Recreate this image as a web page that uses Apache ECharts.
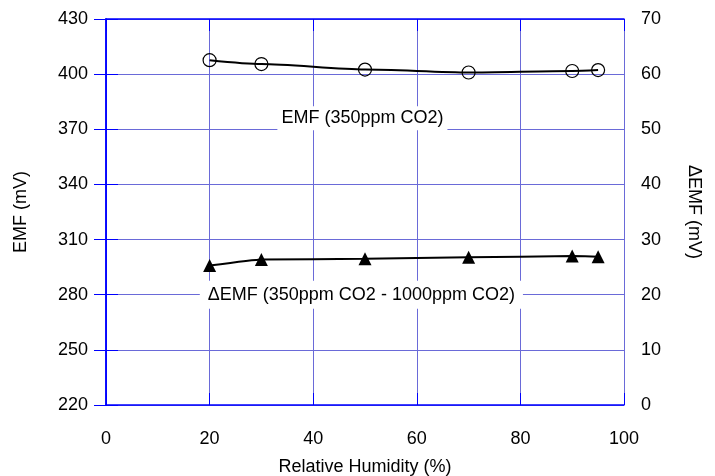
<!DOCTYPE html>
<html><head><meta charset="utf-8">
<script src="https://cdn.jsdelivr.net/npm/echarts@6/dist/echarts.min.js"></script>
<style>html,body{margin:0;padding:0;background:#fff}#c{width:715px;height:476px}</style>
</head><body><div id="c"></div>
<script>
const humidity = [20, 30, 50, 70, 90, 95];
const emf = [407.6, 405.5, 402.5, 400.9, 401.7, 402.2];
const deltaEmf = [25.3, 26.4, 26.5, 26.8, 27.0, 26.9];
const xTicks = [0, 20, 40, 60, 80, 100];
const leftTicks = [220, 250, 280, 310, 340, 370, 400, 430];
const rightTicks = [0, 10, 20, 30, 40, 50, 60, 70];
const emfLabel = 'EMF (350ppm CO2)';
const deltaLabel = '\u0394EMF (350ppm CO2 - 1000ppm CO2)';

const FONT = 'Liberation Sans, Arial, sans-serif';
const AXIS = '#0000ff';
const GRID = '#6a6ad8';
const txt = {color: '#000', fontFamily: FONT, fontSize: 18};

const chart = echarts.init(document.getElementById('c'));
chart.setOption({
  animation: false,
  backgroundColor: '#fff',
  grid: {left: 106, right: 91, top: 19, bottom: 71, outerBoundsMode: 'none', containLabel: false},
  xAxis: [{
    type: 'value', min: xTicks[0], max: xTicks[xTicks.length-1], interval: 20,
    name: 'Relative Humidity (%)', nameLocation: 'middle', nameGap: 53,
    nameTextStyle: txt,
    axisLine: {show: true, lineStyle: {color: AXIS, width: 1.5}},
    axisTick: {show: true, inside: true, length: 12, lineStyle: {color: AXIS}},
    axisLabel: Object.assign({margin: 25}, txt),
    splitLine: {show: true, lineStyle: {color: GRID, width: 1}}
  }, {
    type: 'value', position: 'top', min: xTicks[0], max: xTicks[xTicks.length-1], interval: 20,
    axisLine: {show: true, lineStyle: {color: AXIS, width: 1.5}},
    axisTick: {show: true, inside: true, length: 12, lineStyle: {color: AXIS}},
    axisLabel: {show: false}, splitLine: {show: false}
  }],
  yAxis: [{
    type: 'value', position: 'left', min: leftTicks[0], max: leftTicks[leftTicks.length-1], interval: 30,
    name: 'EMF (mV)', nameLocation: 'middle', nameGap: 76, nameRotate: 90,
    nameTextStyle: txt,
    axisLine: {show: true, lineStyle: {color: AXIS, width: 1.5}},
    axisTick: {show: true, inside: true, length: 12, lineStyle: {color: AXIS}},
    axisLabel: Object.assign({margin: 18}, txt),
    splitLine: {show: true, lineStyle: {color: GRID, width: 1}}
  }, {
    type: 'value', position: 'right', min: rightTicks[0], max: rightTicks[rightTicks.length-1], interval: 10,
    name: '\u0394EMF (mV)', nameLocation: 'middle', nameGap: 61, nameRotate: -90,
    nameTextStyle: txt,
    axisLine: {show: true, lineStyle: {color: AXIS, width: 1.5}},
    axisTick: {show: true, inside: true, length: 12, lineStyle: {color: AXIS}},
    axisLabel: Object.assign({margin: 17}, txt),
    splitLine: {show: false}
  }],
  series: [{
    type: 'line', xAxisIndex: 0, yAxisIndex: 0,
    data: humidity.map((h, i) => [h, emf[i]]),
    smooth: 0.25, smoothMonotone: 'x',
    symbol: 'circle', symbolSize: 13,
    lineStyle: {color: '#000', width: 2},
    itemStyle: {color: 'rgba(0,0,0,0)', borderColor: '#000', borderWidth: 1.2},
    markPoint: {
      symbol: 'rect', symbolSize: 0,
      data: [{coord: [49.5, 376], value: emfLabel}],
      label: Object.assign({show: true, position: 'inside', formatter: emfLabel,
        backgroundColor: '#fff', padding: [3, 4]}, txt)
    }
  }, {
    type: 'line', xAxisIndex: 0, yAxisIndex: 1,
    data: humidity.map((h, i) => [h, deltaEmf[i]]),
    smooth: 0.1, smoothMonotone: 'x',
    symbol: 'triangle', symbolSize: 13,
    lineStyle: {color: '#000', width: 2},
    itemStyle: {color: '#000'},
    markPoint: {
      symbol: 'rect', symbolSize: 0,
      data: [{coord: [49.3, 20], value: deltaLabel}],
      label: Object.assign({show: true, position: 'inside', formatter: deltaLabel,
        backgroundColor: '#fff', padding: [5, 8]}, txt)
    }
  }]
});
</script></body></html>
